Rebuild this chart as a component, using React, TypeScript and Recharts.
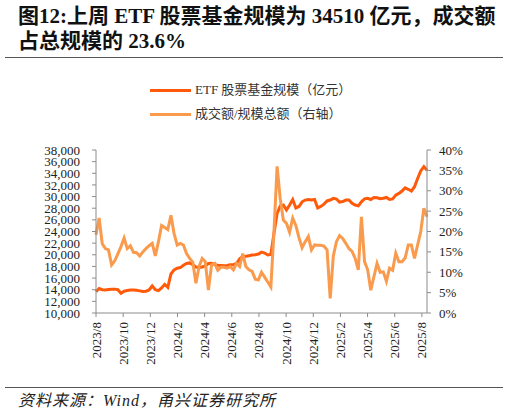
import { Line, LineChart, XAxis, YAxis } from "recharts";

// weekly ETF equity fund scale (100m CNY), from 2023/8
const etfScale = [
  13650, 14200, 14000, 13950, 14050, 14100, 14100, 14000, 13400, 13750,
  13850, 13950, 13950, 13900, 13800, 13700, 13750, 13950, 14650, 14000,
  13850, 14300, 14900, 14400, 16700, 17400, 17700, 17800, 18200, 18500,
  18600, 18300, 17900, 17800, 17900, 18100, 18500, 18550, 18300, 18200,
  18150, 18100, 18150, 18300, 18300, 18500, 19300, 19700, 19750, 19850,
  19950, 20000, 20130, 20450, 20300, 19960, 20070, 23700, 27100, 28400,
  28550, 27700, 28550, 29500, 28050, 28300, 29100, 29400, 29500, 29400,
  29500, 28050, 28300, 28700, 29250, 29400, 29700, 29580, 29050, 29150,
  29400, 29400, 28850, 28550, 28400, 29100, 29600, 29700, 29500, 29850,
  29800, 29650, 29700, 29850, 29500, 29600, 30250, 30550, 30950, 31500,
  31250, 30950, 31700, 33100, 34400, 35150, 34510
];

// turnover / total scale (%), right axis
const turnoverRatio = [
  19.2, 23.3, 17, 15.8, 15.5, 11.8, 12.8, 14.5, 16.3, 18.4,
  15.8, 16.5, 14.9, 14.8, 14, 15, 15.8, 16.5, 17.1, 14,
  17.5, 21.5, 21, 20.5, 24, 19.5, 16.7, 17.1, 16.7, 14.6,
  13.4, 12.5, 7.3, 11.4, 13.4, 12.6, 5.6, 11.8, 12.2, 10.5,
  11.2, 11.2, 11, 11.4, 10.6, 12.2, 11.4, 14.6, 11.4, 10.6,
  10.2, 8.3, 8.1, 10, 8.8, 7.6, 6.4, 20, 36, 28,
  22.8, 22, 19.8, 23.3, 21.5, 18.5, 16, 17.5, 18.8, 15.5,
  16.7, 16.6, 16.6, 16.4, 15.5, 3.6, 14, 17.5, 19, 18.3,
  17.1, 15.8, 15.1, 13.4, 10.6, 23.6, 12.6, 10.6, 5.6, 8.9,
  12.2, 10, 10.1, 7.8, 11, 10.5, 14.7, 12.6, 12.6, 13.5,
  16.7, 16.7, 13.4, 16.7, 20, 25.7, 23.6
];

const monthLabels = [
  "2023/8", "2023/10", "2023/12", "2024/2", "2024/4", "2024/6", "2024/8",
  "2024/10", "2024/12", "2025/2", "2025/4", "2025/6", "2025/8"
];

const leftTicks = [10000, 12000, 14000, 16000, 18000, 20000, 22000, 24000, 26000, 28000, 30000, 32000, 34000, 36000, 38000];
const rightTicks = [0, 5, 10, 15, 20, 25, 30, 35, 40];

const WEEKS_PER_MONTH = 52.18 / 12;
const xTicks = monthLabels.map((_, i) => i * 2 * WEEKS_PER_MONTH);

const data = etfScale.map((v, i) => ({ w: i, etf: v, ratio: turnoverRatio[i] }));

const DARK = "#FF5A0A";
const LIGHT = "#F99A4C";
const SERIF = "'Liberation Serif', 'Times New Roman', 'Noto Sans CJK SC', serif";
const AXIS = "#8c8c8c";

function MonthTick({ x, y, payload }: { x?: number; y?: number; payload?: { value: number; index: number } }) {
  const idx = xTicks.findIndex((t) => Math.abs(t - (payload?.value ?? -1)) < 0.01);
  return (
    <text
      x={x}
      y={y}
      transform={`rotate(-90, ${x}, ${y})`}
      textAnchor="end"
      dy="0.35em"
      fontSize={13}
      fontFamily={SERIF}
      fill="#222"
    >
      {monthLabels[idx]}
    </text>
  );
}

function LegendRow({ top, color, label }: { top: number; color: string; label: string }) {
  return (
    <div style={{ position: "absolute", left: 150, top, display: "flex", alignItems: "center" }}>
      <div style={{ width: 41, height: 3, background: color, marginRight: 4 }} />
      <span style={{ fontSize: 13, fontFamily: SERIF, color: "#333", lineHeight: "16px" }}>{label}</span>
    </div>
  );
}

export default function App() {
  return (
    <div style={{ position: "absolute", left: 0, top: 0, width: 509, height: 414, background: "#fff", overflow: "hidden" }}>
      <div
        style={{
          position: "absolute",
          left: 18,
          top: 4,
          fontSize: 21,
          fontWeight: 700,
          fontFamily: SERIF,
          lineHeight: "25px",
          color: "#111",
          whiteSpace: "nowrap"
        }}
      >
        <div>图12:上周 ETF 股票基金规模为 34510 亿元，成交额</div>
        <div>占总规模的 23.6%</div>
      </div>
      <div style={{ position: "absolute", left: 5, top: 57, width: 498, height: 1, background: "#555" }} />

      <LegendRow top={82} color={DARK} label="ETF 股票基金规模（亿元）" />
      <LegendRow top={106} color={LIGHT} label="成交额/规模总额（右轴）" />

      <div style={{ position: "absolute", left: 0, top: 0 }}>
        <LineChart width={509} height={414} data={data} margin={{ top: 150, right: 22, bottom: 41, left: 10 }}>
          <XAxis
            dataKey="w"
            type="number"
            domain={[0, 106]}
            ticks={xTicks}
            interval={0}
            tick={<MonthTick />}
            tickSize={4}
            tickMargin={5}
            height={60}
            stroke={AXIS}
            axisLine={{ stroke: AXIS }}
            tickLine={{ stroke: AXIS }}
          />
          <YAxis
            yAxisId="left"
            domain={[10000, 38000]}
            ticks={leftTicks}
            interval={0}
            width={86}
            tickSize={4}
            tickMargin={12}
            tickFormatter={(v) => Number(v).toLocaleString("en-US")}
            tick={{ fontSize: 13, fontFamily: SERIF, fill: "#222" }}
            stroke={AXIS}
          />
          <YAxis
            yAxisId="right"
            orientation="right"
            domain={[0, 40]}
            ticks={rightTicks}
            interval={0}
            width={60}
            tickSize={4}
            tickMargin={8}
            tickFormatter={(v) => `${v}%`}
            tick={{ fontSize: 13, fontFamily: SERIF, fill: "#222" }}
            stroke={AXIS}
          />
          <Line yAxisId="left" type="linear" dataKey="etf" stroke={DARK} strokeWidth={3} dot={false} isAnimationActive={false} />
          <Line yAxisId="right" type="linear" dataKey="ratio" stroke={LIGHT} strokeWidth={3} dot={false} isAnimationActive={false} />
        </LineChart>
      </div>

      <div style={{ position: "absolute", left: 5, top: 387, width: 498, height: 1, background: "#555" }} />
      <div
        style={{
          position: "absolute",
          left: 18,
          top: 391,
          fontSize: 16,
          fontStyle: "italic",
          fontFamily: SERIF,
          letterSpacing: 1,
          color: "#222",
          whiteSpace: "nowrap",
          lineHeight: "20px"
        }}
      >
        资料来源：Wind，甬兴证券研究所
      </div>
    </div>
  );
}
